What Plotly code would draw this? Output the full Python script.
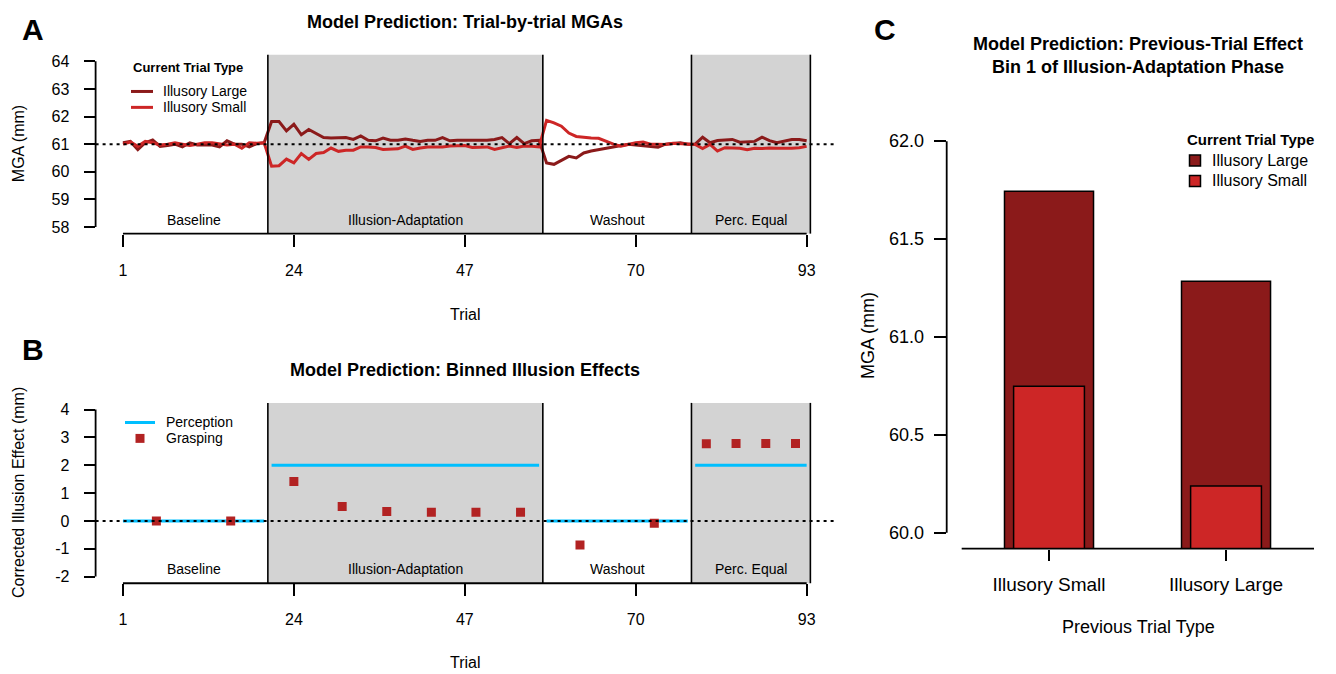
import plotly.graph_objects as go

W, H = 1336, 674
FONT = "Liberation Sans, Arial, Helvetica, sans-serif"

# ---------------- data ----------------
trials = list(range(1, 94))
tick_trials = [1, 24, 47, 70, 93]
phase_names = ["Baseline", "Illusion-Adaptation", "Washout", "Perc. Equal"]
phase_first = [1, 21, 58, 78]
phase_last = [20, 57, 77, 93]
phase_shaded = [False, True, False, True]

mga_large = [
    61.05, 61.10, 60.80, 61.05, 61.15, 60.92, 60.95, 61.00, 60.90, 61.05,
    60.97, 60.97, 60.97, 60.90, 61.12, 61.00, 61.00, 60.90, 61.02, 61.05,
    61.82, 61.82, 61.48, 61.72, 61.34, 61.53, 61.38, 61.24, 61.22, 61.22,
    61.24, 61.17, 61.30, 61.14, 61.12, 61.22, 61.14, 61.14, 61.19, 61.14,
    61.10, 61.14, 61.14, 61.24, 61.12, 61.14, 61.14, 61.12, 61.14, 61.14,
    61.17, 61.24, 61.02, 61.24, 61.02, 61.12, 61.14,
    60.32, 60.27, 60.40, 60.56, 60.50, 60.68, 60.75, 60.80, 60.87, 60.90,
    60.95, 61.00, 60.97, 60.95, 60.92, 60.89, 61.00, 61.02, 61.05, 61.00,
    61.00, 61.25, 61.05, 61.13, 61.15, 61.17, 61.07, 61.08, 61.10, 61.25,
    61.13, 61.05, 61.12, 61.17, 61.17, 61.12,
]
mga_small = [
    61.00, 61.08, 60.92, 61.10, 61.05, 60.97, 61.00, 61.05, 61.00, 60.95,
    61.00, 61.05, 61.05, 61.00, 60.97, 61.00, 60.85, 61.05, 61.03, 61.05,
    60.20, 60.22, 60.46, 60.32, 60.66, 60.45, 60.66, 60.70, 60.86, 60.74,
    60.78, 60.78, 60.90, 60.90, 60.88, 60.81, 60.83, 60.83, 60.93, 60.81,
    60.86, 60.90, 60.90, 60.90, 60.93, 60.93, 60.95, 60.88, 60.88, 60.90,
    60.81, 60.88, 60.93, 60.88, 60.93, 60.92, 60.90,
    61.86, 61.77, 61.65, 61.40, 61.28, 61.24, 61.22, 61.21, 61.10, 61.00,
    60.93, 61.00, 61.05, 61.08, 61.00, 61.00, 60.99, 61.03, 61.02, 61.00,
    60.99, 60.84, 60.99, 60.75, 60.87, 60.86, 60.85, 60.80, 60.85, 60.84,
    60.86, 60.85, 60.84, 60.85, 60.87, 60.92,
]
mga_reference = 61
mga_ticks = [58, 59, 60, 61, 62, 63, 64]

perception_effect = [0, 2, 0, 2]
grasp_bin_trial = [5.5, 15.5, 24, 30.5, 36.5, 42.5, 48.5, 54.5, 62.5, 72.5, 79.5, 83.5, 87.5, 91.5]
grasp_effect = [0.0, 0.0, 1.42, 0.52, 0.34, 0.31, 0.31, 0.31, -0.87, -0.08, 2.77, 2.78, 2.78, 2.78]
effect_ticks = [-2, -1, 0, 1, 2, 3, 4]
effect_ticktext = ["-2", "-1", "0", "1", "2", "3", "4"]

prev_types = ["Illusory Small", "Illusory Large"]
bar_large = [61.744, 61.284]
bar_small = [60.748, 60.239]
bar_ticks = [60, 60.5, 61, 61.5, 62]
bar_ticktext = ["60.0", "60.5", "61.0", "61.5", "62.0"]

C_LARGE = "#8B1A1A"
C_SMALL = "#CD2626"
C_GRASP = "#B22222"
C_PERC = "#00BFFF"
C_SHADE = "#D3D3D3"


def fx(px):
    return px / W


def fy(py):
    return 1 - py / H


fig = go.Figure()

# ---------- Panel A ----------
fig.add_trace(go.Scatter(x=trials, y=mga_large, mode="lines", name="Illusory Large",
                         line=dict(color=C_LARGE, width=3), xaxis="x", yaxis="y"))
fig.add_trace(go.Scatter(x=trials, y=mga_small, mode="lines", name="Illusory Small",
                         line=dict(color=C_SMALL, width=3), xaxis="x", yaxis="y"))

# ---------- Panel B ----------
px_, py_ = [], []
for a, b, v in zip(phase_first, phase_last, perception_effect):
    px_ += [a, b, None]
    py_ += [v, v, None]
fig.add_trace(go.Scatter(x=px_, y=py_, mode="lines", name="Perception",
                         line=dict(color=C_PERC, width=3), xaxis="x2", yaxis="y2"))
fig.add_trace(go.Scatter(x=grasp_bin_trial, y=grasp_effect, mode="markers", name="Grasping",
                         marker=dict(symbol="square", size=9, color=C_GRASP),
                         xaxis="x2", yaxis="y2"))

# ---------- Panel C ----------
fig.add_trace(go.Bar(x=prev_types, y=bar_large, name="Illusory Large", width=0.503,
                     marker=dict(color=C_LARGE, line=dict(color="black", width=1.5)),
                     xaxis="x3", yaxis="y3"))
fig.add_trace(go.Bar(x=prev_types, y=bar_small, name="Illusory Small", width=0.40,
                     marker=dict(color=C_SMALL, line=dict(color="black", width=1.5)),
                     xaxis="x3", yaxis="y3"))

shapes = []
annotations = []

# shading, phase lines, phase labels for panels A and B
for xa, ya in [("x", "y"), ("x2", "y2")]:
    for a, b, sh in zip(phase_first, phase_last, phase_shaded):
        if sh:
            shapes.append(dict(type="rect", xref=xa, yref=f"{ya} domain", x0=a - 0.5, x1=b + 0.5,
                               y0=0, y1=1, fillcolor=C_SHADE, line=dict(width=0), layer="below"))
    for b in phase_last:
        shapes.append(dict(type="line", xref=xa, yref=f"{ya} domain", x0=b + 0.5, x1=b + 0.5,
                           y0=0, y1=1, line=dict(color="black", width=1.6), layer="above"))
    for a, b, nm in zip(phase_first, phase_last, phase_names):
        annotations.append(dict(text=nm, xref=xa, yref=f"{ya} domain", x=(a + b) / 2, y=0.078,
                                showarrow=False, xanchor="center", yanchor="middle",
                                font=dict(size=14, color="black")))
    shapes.append(dict(type="line", xref=xa, yref=f"{ya} domain", x0=trials[0], x1=trials[-1],
                       y0=0, y1=0, line=dict(color="black", width=1.8)))

# y axis lines (tick range only)
shapes.append(dict(type="line", xref="x domain", yref="y", x0=0, x1=0, y0=mga_ticks[0], y1=mga_ticks[-1],
                   line=dict(color="black", width=1.8)))
shapes.append(dict(type="line", xref="x2 domain", yref="y2", x0=0, x1=0, y0=effect_ticks[0], y1=effect_ticks[-1],
                   line=dict(color="black", width=1.8)))
shapes.append(dict(type="line", xref="x3 domain", yref="y3", x0=0, x1=0, y0=bar_ticks[0], y1=bar_ticks[-1],
                   line=dict(color="black", width=1.8)))
shapes.append(dict(type="line", xref="x3 domain", yref="y3 domain", x0=0.0408, x1=1, y0=0, y1=0,
                   line=dict(color="black", width=1.8)))

# dotted reference lines
shapes.append(dict(type="line", xref="x domain", yref="y", x0=0, x1=1, y0=mga_reference, y1=mga_reference,
                   line=dict(color="black", width=2, dash="3px,4px"), layer="above"))
shapes.append(dict(type="line", xref="x2 domain", yref="y2", x0=0, x1=1, y0=0, y1=0,
                   line=dict(color="black", width=2, dash="3px,4px"), layer="above"))


def ann(text, x, y, size, bold=False, angle=0, anchor="center"):
    annotations.append(dict(text=f"<b>{text}</b>" if bold else text, xref="paper", yref="paper",
                            x=fx(x), y=fy(y), showarrow=False, xanchor=anchor, yanchor="middle",
                            textangle=angle, font=dict(size=size, color="black")))


def paper_line(x0, x1, y, color, width):
    shapes.append(dict(type="line", xref="paper", yref="paper", x0=fx(x0), x1=fx(x1), y0=fy(y), y1=fy(y),
                       line=dict(color=color, width=width)))


def paper_square(x0, x1, y0, y1, color, outline=None):
    shapes.append(dict(type="rect", xref="paper", yref="paper", x0=fx(x0), x1=fx(x1), y0=fy(y1), y1=fy(y0),
                       fillcolor=color, line=dict(color=outline or color, width=1.5 if outline else 0)))


ann("A", 33, 28, 30, bold=True)
ann("B", 33, 350, 30, bold=True)
ann("C", 885, 28, 30, bold=True)
ann("Model Prediction: Trial-by-trial MGAs", 465, 20, 18, bold=True)
ann("Model Prediction: Binned Illusion Effects", 465, 370, 18, bold=True)
ann("Model Prediction: Previous-Trial Effect<br>Bin 1 of Illusion-Adaptation Phase", 1138, 54, 18, bold=True)
ann("MGA (mm)", 18, 143, 16, angle=-90)
ann("Trial", 465, 314, 16)
ann("Corrected Illusion Effect (mm)", 18, 494, 16, angle=-90)
ann("Trial", 465, 664, 16)
ann("MGA (mm)", 868, 336, 18, angle=-90)
ann("Previous Trial Type", 1138, 629, 18)

# legend A
ann("Current Trial Type", 131, 66, 13, bold=True, anchor="left")
paper_line(131, 153, 90, C_LARGE, 3)
paper_line(131, 153, 106, C_SMALL, 3)
ann("Illusory Large", 161, 90, 14, anchor="left")
ann("Illusory Small", 161, 106, 14, anchor="left")

# legend B
paper_line(125, 155, 423, C_PERC, 3)
paper_square(135.5, 144.5, 434.5, 443.5, C_GRASP)
ann("Perception", 164, 423, 14, anchor="left")
ann("Grasping", 164, 439, 14, anchor="left")

# legend C
ann("Current Trial Type", 1185, 138, 15, bold=True, anchor="left")
paper_square(1189.5, 1200.5, 154, 165, C_LARGE, outline="black")
paper_square(1189.5, 1200.5, 174.5, 185.5, C_SMALL, outline="black")
ann("Illusory Large", 1210, 159.5, 16, anchor="left")
ann("Illusory Small", 1210, 180, 16, anchor="left")

common_x = dict(showgrid=False, zeroline=False, showline=False, ticks="outside", ticklen=12,
                tickwidth=1.8, tickcolor="black", tickfont=dict(size=16, color="black"),
                ticklabelstandoff=10)
common_y = dict(showgrid=False, zeroline=False, showline=False, ticks="outside", ticklen=11,
                tickwidth=1.8, tickcolor="black", tickfont=dict(size=16, color="black"),
                ticklabelstandoff=11)

fig.update_layout(
    width=W, height=H, margin=dict(l=0, r=0, t=0, b=0),
    paper_bgcolor="white", plot_bgcolor="rgba(0,0,0,0)",
    font=dict(family=FONT, color="black"),
    barmode="overlay", showlegend=False,
    xaxis=dict(domain=[fx(95.6), fx(834)], range=[-2.68, 96.68], tickvals=tick_trials,
               anchor="y", **common_x),
    yaxis=dict(domain=[fy(233), fy(53)], range=[57.76, 64.24], tickvals=mga_ticks,
               anchor="x", **common_y),
    xaxis2=dict(domain=[fx(95.6), fx(834)], range=[-2.68, 96.68], tickvals=tick_trials,
                anchor="y2", **common_x),
    yaxis2=dict(domain=[fy(584.7), fy(403.3)], range=[-2.24, 4.24], tickvals=effect_ticks,
                ticktext=effect_ticktext, anchor="x2", **common_y),
    xaxis3=dict(domain=[fx(946.7), fx(1314)], range=[-0.578, 1.497], anchor="y3",
                showgrid=False, zeroline=False, showline=False, ticks="outside", ticklen=11,
                tickwidth=1.8, tickcolor="black", tickfont=dict(size=19, color="black"),
                ticklabelstandoff=8),
    yaxis3=dict(domain=[fy(549.8), fy(124.2)], range=[59.92, 62.08], tickvals=bar_ticks,
                ticktext=bar_ticktext, anchor="x3",
                showgrid=False, zeroline=False, showline=False, ticks="outside", ticklen=12,
                tickwidth=1.8, tickcolor="black", tickfont=dict(size=18, color="black"),
                ticklabelstandoff=6),
    shapes=shapes, annotations=annotations,
)

fig.write_html("out.html", config={"displayModeBar": False},
               post_script="document.body.style.margin='0px';")
